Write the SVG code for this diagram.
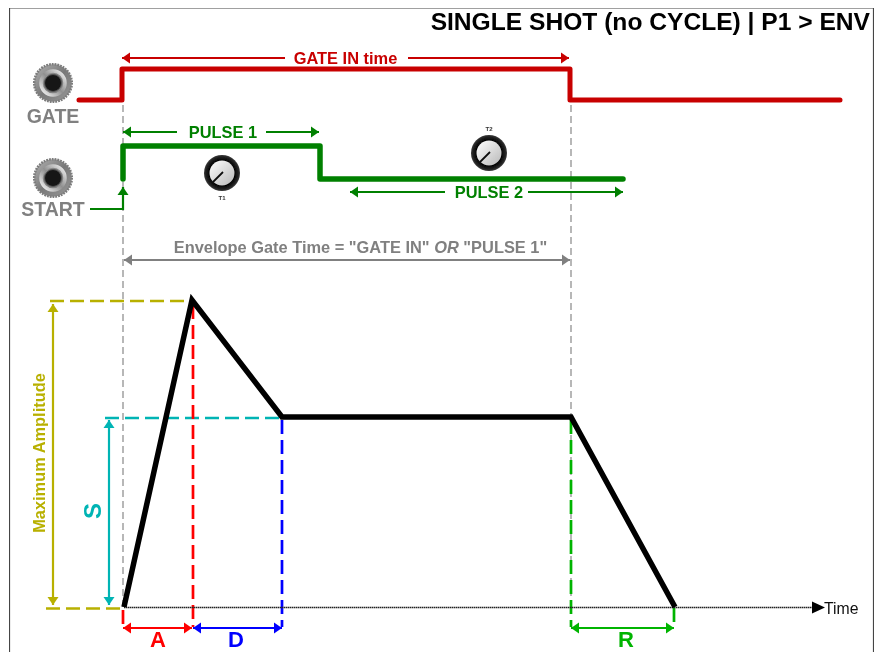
<svg xmlns="http://www.w3.org/2000/svg" width="875" height="652" viewBox="0 0 875 652">
<style>
text{font-family:"Liberation Sans",Arial,sans-serif;font-weight:700}
.m{text-anchor:middle}
.th{fill:none;stroke-linejoin:round;stroke-linecap:round}
.dash{fill:none;stroke-width:2.700;stroke-dasharray:14 6}
.ar{fill:none;stroke-width:2.200}
.red{stroke:#c80000;fill:none}.grn{stroke:#008000;fill:none}.gry{stroke:#808080;fill:none}
.oli{stroke:#b8b000}.tea{stroke:#00b4b4}.brd{stroke:#ff0000}.bbl{stroke:#0000ff}.lgr{stroke:#00b400}
</style>
<defs>
<filter id="soft" x="0" y="0" width="100%" height="100%"><feGaussianBlur stdDeviation="0.45"/></filter>
<marker id="mr" markerUnits="userSpaceOnUse" markerWidth="10" markerHeight="12" refX="9" refY="6" orient="auto-start-reverse"><path d="M1 0.5L9 6L1 11.500z" fill="#c80000"/></marker>
<marker id="mg" markerUnits="userSpaceOnUse" markerWidth="10" markerHeight="12" refX="9" refY="6" orient="auto-start-reverse"><path d="M1 0.5L9 6L1 11.500z" fill="#008000"/></marker>
<marker id="my" markerUnits="userSpaceOnUse" markerWidth="10" markerHeight="12" refX="9" refY="6" orient="auto-start-reverse"><path d="M1 0.5L9 6L1 11.500z" fill="#808080"/></marker>
<marker id="mo" markerUnits="userSpaceOnUse" markerWidth="10" markerHeight="12" refX="9" refY="6" orient="auto-start-reverse"><path d="M1 0.5L9 6L1 11.500z" fill="#b8b000"/></marker>
<marker id="mt" markerUnits="userSpaceOnUse" markerWidth="10" markerHeight="12" refX="9" refY="6" orient="auto-start-reverse"><path d="M1 0.5L9 6L1 11.500z" fill="#00b4b4"/></marker>
<marker id="mred" markerUnits="userSpaceOnUse" markerWidth="10" markerHeight="12" refX="9" refY="6" orient="auto-start-reverse"><path d="M1 0.5L9 6L1 11.500z" fill="#ff0000"/></marker>
<marker id="mb" markerUnits="userSpaceOnUse" markerWidth="10" markerHeight="12" refX="9" refY="6" orient="auto-start-reverse"><path d="M1 0.5L9 6L1 11.500z" fill="#0000ff"/></marker>
<marker id="ml" markerUnits="userSpaceOnUse" markerWidth="10" markerHeight="12" refX="9" refY="6" orient="auto-start-reverse"><path d="M1 0.5L9 6L1 11.500z" fill="#00b400"/></marker>
<linearGradient id="jk" x1="0" y1="0" x2="1" y2="1"><stop offset="0" stop-color="#b4b4b4"/><stop offset="0.5" stop-color="#787878"/><stop offset="1" stop-color="#9a9a9a"/></linearGradient>
<linearGradient id="jr" x1="0" y1="1" x2="1" y2="0"><stop offset="0" stop-color="#fafafa"/><stop offset="0.5" stop-color="#909090"/><stop offset="1" stop-color="#f4f4f4"/></linearGradient>
<linearGradient id="kn" x1="0" y1="0" x2="1" y2="1"><stop offset="0" stop-color="#ffffff"/><stop offset="1" stop-color="#b8b8b8"/></linearGradient>
<radialGradient id="kr"><stop offset="0.7" stop-color="#000"/><stop offset="0.9" stop-color="#222"/><stop offset="1" stop-color="#3a3a3a"/></radialGradient>
<g id="jack">
<circle r="18.800" fill="url(#jk)" stroke="#7c7c7c" stroke-width="2.500" stroke-dasharray="1.800 1"/>
<circle r="12" fill="none" stroke="url(#jr)" stroke-width="3.500"/>
<circle r="8.500" fill="#161616" stroke="#555" stroke-width="1"/>
</g>
<g id="knob">
<circle r="18" fill="url(#kr)"/>
<circle r="12.500" fill="url(#kn)"/>
<path d="M-9 9L1 -1" stroke="#111" stroke-width="1.800" fill="none"/>
</g>
</defs>
<rect width="875" height="652" fill="#fff"/>
<g filter="url(#soft)">
<path d="M9.500 652V8H873.500V652" fill="none" stroke="#444" stroke-width="1.200"/>
<text x="870" y="30" font-size="24.600" text-anchor="end" fill="#000">SINGLE SHOT (no CYCLE) | P1 &gt; ENV</text>

<g id="connectors">
<path d="M123 105V607M571 105V607" fill="none" stroke="#a0a0a0" stroke-width="1.500" stroke-dasharray="7 4"/>
<path class="dash oli" d="M50 301H192M46 608.500H120"/>
<path class="dash tea" d="M105 418H282"/>
<path class="dash brd" d="M193 305V627M123 610V627"/>
<path class="dash bbl" d="M282 420V627"/>
<path class="dash lgr" d="M571 420V627M674 608V627"/>
<path d="M124 607.500H813" fill="none" stroke="#222" stroke-width="1.400" stroke-dasharray="1.500 0.500"/>
<path d="M812 601.500L825 607.500L812 613.500z" fill="#000"/>
<path d="M124 607L192 300L282 417H571L675 607" fill="none" stroke="#000" stroke-width="5.500"/>

<path class="th red" stroke-width="5" d="M79 100H122V69H570V100H840"/>
<path class="th grn" stroke-width="5.500" d="M123 179V146H320V179H623"/>
<path class="ar grn" d="M90 209H123V187" marker-end="url(#mg)"/>
<path class="ar red" d="M285 58H122" marker-end="url(#mr)"/>
<path class="ar red" d="M408 58H569" marker-end="url(#mr)"/>
<path class="ar grn" d="M177 132H123" marker-end="url(#mg)"/>
<path class="ar grn" d="M266 132H319" marker-end="url(#mg)"/>
<path class="ar grn" d="M445 192H350" marker-end="url(#mg)"/>
<path class="ar grn" d="M528 192H623" marker-end="url(#mg)"/>
<path class="ar gry" d="M124 260H570" marker-start="url(#my)" marker-end="url(#my)"/>
<path class="ar oli" d="M53 304V605" marker-start="url(#mo)" marker-end="url(#mo)"/>
<path class="ar tea" d="M109 420V605" marker-start="url(#mt)" marker-end="url(#mt)"/>
<path class="ar brd" d="M123 628H192" marker-start="url(#mred)" marker-end="url(#mred)"/>
<path class="ar bbl" d="M193 628H282" marker-start="url(#mb)" marker-end="url(#mb)"/>
<path class="ar lgr" d="M571 628H674" marker-start="url(#ml)" marker-end="url(#ml)"/>
</g>

<g id="gate-jack"><use href="#jack" x="53" y="83"/><text x="53" y="122.500" font-size="19.500" class="m" fill="#808080">GATE</text></g>
<g id="start-jack"><use href="#jack" x="53" y="178"/><text x="53" y="216" font-size="19.500" class="m" fill="#808080">START</text></g>
<g id="knob-t1"><use href="#knob" x="222" y="173"/><text x="222" y="199.500" font-size="6" class="m" fill="#333">T1</text></g>
<g id="knob-t2"><use href="#knob" x="489" y="153"/><text x="489" y="131" font-size="6" class="m" fill="#333">T2</text></g>

<g id="labels">
<text x="345.500" y="64" font-size="16.400" class="m" fill="#c80000">GATE IN time</text>
<text x="223" y="137.500" font-size="16.400" class="m" fill="#008000">PULSE 1</text>
<text x="489" y="197.500" font-size="16.400" class="m" fill="#008000">PULSE 2</text>
<text x="360.500" y="252.500" font-size="16.400" class="m" fill="#808080">Envelope Gate Time = "GATE IN" <tspan font-style="italic">OR</tspan> "PULSE 1"</text>
<text transform="translate(45 453) rotate(-90)" font-size="16.400" class="m" fill="#b8b000">Maximum Amplitude</text>
<text transform="translate(101 511) rotate(-90)" font-size="24" class="m" fill="#00b4b4">S</text>
<text x="158" y="647" font-size="22" class="m" fill="#ff0000">A</text>
<text x="236" y="647" font-size="22" class="m" fill="#0000ff">D</text>
<text x="626" y="647" font-size="22" class="m" fill="#00b400">R</text>
<text x="824" y="614" font-size="15.800" fill="#111" style="font-weight:400">Time</text>
</g>
</g>
</svg>
